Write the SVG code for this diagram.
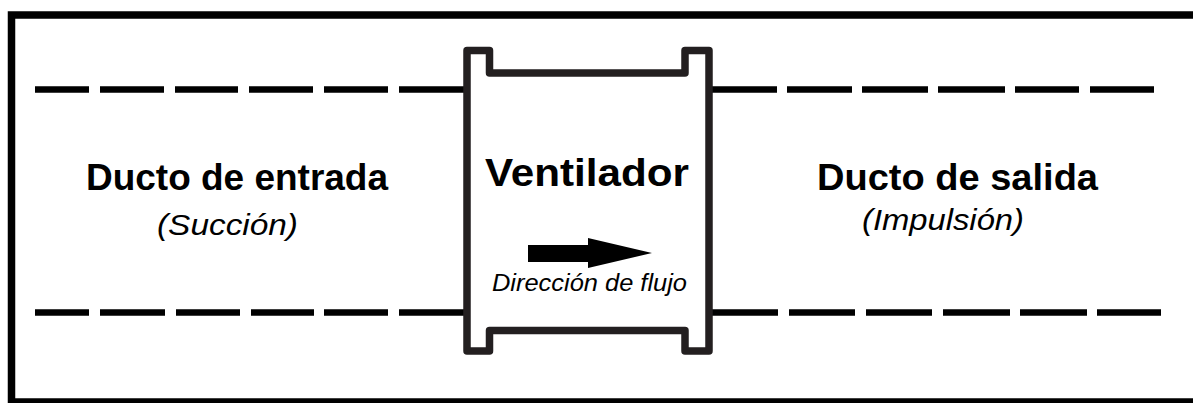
<svg xmlns="http://www.w3.org/2000/svg" width="1193" height="403" viewBox="0 0 1193 403">
  <style>
    .frame { fill: none; stroke: #000; stroke-width: 7.5; }
    .wall { fill: none; stroke: #000; stroke-width: 6.5; stroke-linecap: butt; }
    .body { fill: none; stroke: #231f20; stroke-width: 7.5; stroke-linejoin: round; }
    .title { font-family: "Liberation Sans", Arial, sans-serif; font-weight: bold; fill: #000; }
    .sub { font-family: "Liberation Sans", Arial, sans-serif; font-style: italic; fill: #000; }
  </style>
  <rect width="1193" height="403" fill="#fff"/>
  <g id="frame">
    <rect class="frame" x="11.5" y="15" width="1200" height="387"/>
  </g>
  <g id="ducto-entrada">
    <path class="wall" d="M35,89.5H89 M100,89.5H164 M175,89.5H238 M249,89.5H313 M324,89.5H388 M399,89.5H467"/>
    <path class="wall" d="M35,312.5H89 M100,312.5H165 M176,312.5H240 M251,312.5H314 M324,312.5H388 M399,312.5H467"/>
    <text class="title" x="86" y="190" font-size="36" textLength="302" lengthAdjust="spacingAndGlyphs">Ducto de entrada</text>
    <text class="sub" x="157" y="235" font-size="29" textLength="141" lengthAdjust="spacingAndGlyphs">(Succión)</text>
  </g>
  <g id="ducto-salida">
    <path class="wall" d="M709,89.5H777 M787,89.5H852 M862,89.5H928 M938,89.5H1005 M1015,89.5H1079 M1090,89.5H1154"/>
    <path class="wall" d="M709,312.5H778 M789,312.5H855 M866,312.5H932 M943,312.5H1010 M1020,312.5H1087 M1097,312.5H1161"/>
    <text class="title" x="817" y="190" font-size="36" textLength="281" lengthAdjust="spacingAndGlyphs">Ducto de salida</text>
    <text class="sub" x="862" y="230" font-size="29" textLength="162" lengthAdjust="spacingAndGlyphs">(Impulsión)</text>
  </g>
  <g id="ventilador">
    <path class="body" d="M467,351 V50.5 H489.5 V73 H685 V50.5 H709 V351 H685 V330.5 H489.5 V351 Z"/>
    <text class="title" x="485" y="186" font-size="39" textLength="204" lengthAdjust="spacingAndGlyphs">Ventilador</text>
    <text class="sub" x="492" y="291" font-size="23" textLength="195" lengthAdjust="spacingAndGlyphs">Dirección de flujo</text>
  </g>
  <g id="connectors">
    <polygon points="528,245 588,245 588,238 652,253 588,268 588,262 528,262" fill="#000"/>
  </g>
</svg>
